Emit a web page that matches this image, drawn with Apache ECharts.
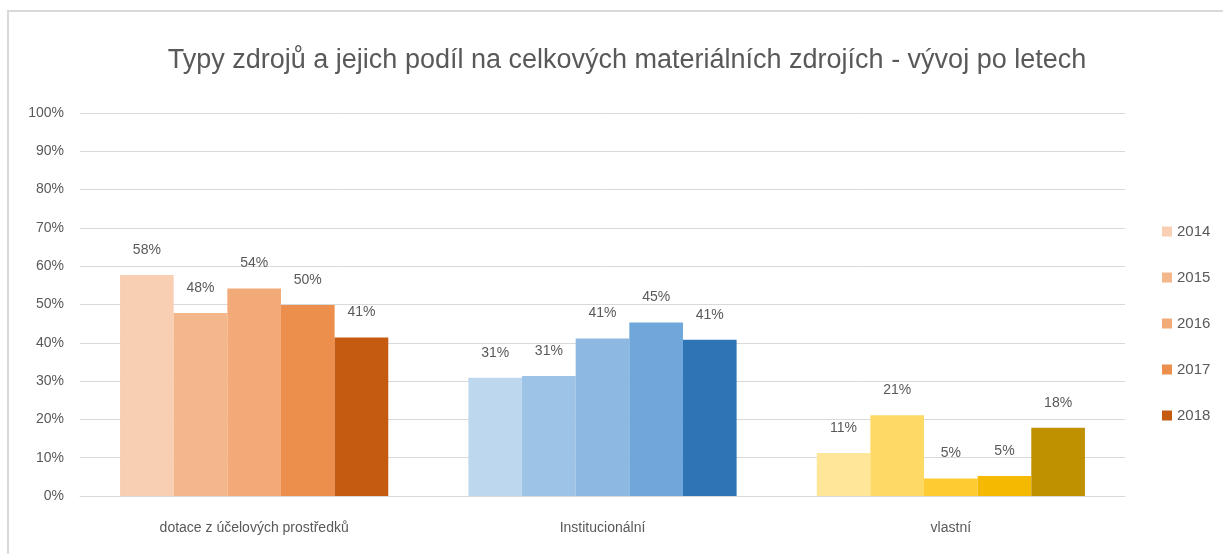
<!DOCTYPE html>
<html>
<head>
<meta charset="utf-8">
<script src="https://cdn.jsdelivr.net/npm/echarts@6/dist/echarts.min.js"></script>
<style>
  html, body { margin: 0; width: 100%; height: 100%; background: #fff; overflow: hidden; }
  #frame { position: absolute; left: 7px; top: 10px; width: 1300px; height: 600px;
           border-left: 2px solid #d9d9d9; border-top: 2px solid #d9d9d9; }
  #main { position: absolute; left: 0; top: 0; width: 1223px; height: 554px; }
</style>
</head>
<body>
<div id="frame"></div>
<div id="main"></div>
<script>
// kategorie a roky
var categories = ['dotace z účelových prostředků', 'Institucionální', 'vlastní'];
var years = ['2014', '2015', '2016', '2017', '2018'];

// podíly v % pro jednotlivé roky (pořadí podle categories)
var values2014 = [57.7, 30.9, 11.2];
var values2015 = [47.8, 31.3, 21.1];
var values2016 = [54.2, 41.1, 4.6];
var values2017 = [49.9, 45.3, 5.2];
var values2018 = [41.4, 40.8, 17.8];
var yearValues = [values2014, values2015, values2016, values2017, values2018];

var yTicks = [0, 10, 20, 30, 40, 50, 60, 70, 80, 90, 100];

// barvy: oranžová, modrá, žlutá škála pro každou kategorii
var orangeShades = ['#f8cfb3', '#f4b68b', '#f2aa79', '#ed8f4c', '#c55a11'];
var blueShades = ['#bdd7ee', '#9dc3e6', '#8db8e1', '#6fa7da', '#2e75b6'];
var yellowShades = ['#ffe699', '#ffd966', '#ffcb33', '#f4b900', '#bf9000'];
var shades = [orangeShades, blueShades, yellowShades];

var FONT = 'Liberation Sans';

var chart = echarts.init(document.getElementById('main'));

var series = years.map(function (y, i) {
    return {
        name: y,
        type: 'bar',
        barGap: '0%',
        barCategoryGap: '23%',
        color: orangeShades[i],
        label: {
            show: true,
            position: 'top',
            distance: 18,
            color: '#595959',
            fontSize: 14,
            fontFamily: FONT,
            formatter: function (p) { return Math.round(p.value) + '%'; }
        },
        data: yearValues[i].map(function (v, c) {
            return { value: v, itemStyle: { color: shades[c][i] } };
        })
    };
});

var option = {
    animation: false,
    title: {
        text: 'Typy zdrojů a jejich podíl na celkových materiálních zdrojích - vývoj po letech',
        left: 622,
        textAlign: 'center',
        top: 42,
        textStyle: {
            color: '#595959',
            fontSize: 27,
            fontWeight: 'normal',
            fontFamily: FONT
        }
    },
    legend: {
        data: years,
        orient: 'vertical',
        left: 1157,
        top: 219,
        itemWidth: 10,
        itemHeight: 10,
        itemGap: 31,
        icon: 'rect',
        textStyle: { color: '#595959', fontSize: 15, fontFamily: FONT }
    },
    grid: { left: 80, right: 98, top: 113, bottom: 58 },
    xAxis: {
        type: 'category',
        data: categories,
        axisLine: { lineStyle: { color: '#d9d9d9' } },
        axisTick: { show: false },
        axisLabel: { color: '#595959', fontSize: 14, margin: 25, fontFamily: FONT }
    },
    yAxis: {
        type: 'value',
        min: yTicks[0],
        max: yTicks[yTicks.length - 1],
        interval: 10,
        axisLine: { show: false },
        axisTick: { show: false },
        splitLine: { lineStyle: { color: '#d9d9d9' } },
        axisLabel: {
            color: '#595959', fontSize: 14, margin: 16, fontFamily: FONT,
            formatter: '{value}%'
        }
    },
    series: series
};
chart.setOption(option);
</script>
</body>
</html>
